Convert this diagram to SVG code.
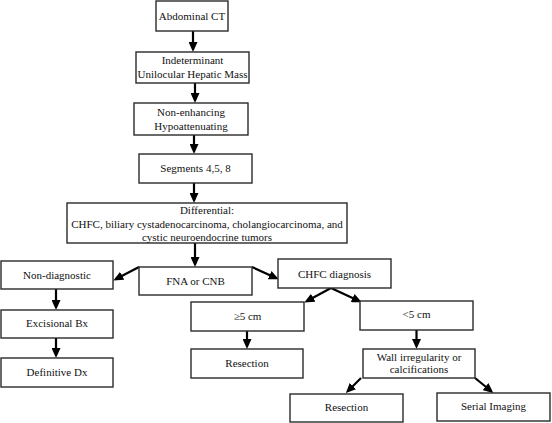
<svg xmlns="http://www.w3.org/2000/svg" width="552" height="423" viewBox="0 0 552 423">
<style>
.box{fill:#fff;stroke:#2a2a2a;stroke-width:1.4}
.t{font-family:'Liberation Serif','Times New Roman','DejaVu Serif',serif;font-size:11px;fill:#111;text-anchor:middle}
.c{stroke:#000;stroke-width:2.2;fill:none}
</style>
<defs>
<marker id="ah" markerUnits="userSpaceOnUse" markerWidth="10" markerHeight="9" refX="7" refY="4.5" orient="auto">
<path d="M0,0 L10,4.5 L0,9 z" fill="#000"/>
</marker>
</defs>
<rect width="552" height="423" fill="#fff"/>
<g id="connectors">
<line class="c" x1="193" y1="31" x2="193" y2="49" marker-end="url(#ah)"/>
<line class="c" x1="195" y1="83" x2="195" y2="100" marker-end="url(#ah)"/>
<line class="c" x1="194" y1="135" x2="194" y2="151" marker-end="url(#ah)"/>
<line class="c" x1="194" y1="183" x2="194" y2="200" marker-end="url(#ah)"/>
<line class="c" x1="195" y1="243" x2="195" y2="264" marker-end="url(#ah)"/>
<line class="c" x1="139" y1="267" x2="116" y2="279" marker-end="url(#ah)"/>
<line class="c" x1="252" y1="267" x2="276" y2="278" marker-end="url(#ah)"/>
<line class="c" x1="331" y1="288" x2="307" y2="301" marker-end="url(#ah)"/>
<line class="c" x1="331" y1="288" x2="359" y2="301" marker-end="url(#ah)"/>
<line class="c" x1="56" y1="289" x2="56" y2="307" marker-end="url(#ah)"/>
<line class="c" x1="56" y1="338" x2="56" y2="355" marker-end="url(#ah)"/>
<line class="c" x1="247" y1="331" x2="247" y2="346" marker-end="url(#ah)"/>
<line class="c" x1="416.5" y1="330" x2="416.5" y2="346" marker-end="url(#ah)"/>
<line class="c" x1="361" y1="378" x2="348" y2="391" marker-end="url(#ah)"/>
<line class="c" x1="475" y1="378" x2="491" y2="391" marker-end="url(#ah)"/>
</g>
<g id="abdominal-ct"><rect class="box" x="156" y="1" width="72" height="30"/><text class="t" x="192" y="19.5">Abdominal CT</text></g>
<g id="indeterminant"><rect class="box" x="136" y="52" width="113" height="31"/><text class="t" x="192.5" y="64">Indeterminant</text><text class="t" x="192.5" y="77.5">Unilocular Hepatic Mass</text></g>
<g id="non-enhancing"><rect class="box" x="134" y="103" width="114" height="32"/><text class="t" x="191" y="115.5">Non-enhancing</text><text class="t" x="191" y="130">Hypoattenuating</text></g>
<g id="segments"><rect class="box" x="139" y="154" width="113" height="29"/><text class="t" x="195.5" y="172">Segments 4,5, 8</text></g>
<g id="differential"><rect class="box" x="67" y="203" width="280" height="40"/><text class="t" x="207" y="214">Differential:</text><text class="t" x="207" y="227.5">CHFC, biliary cystadenocarcinoma, cholangiocarcinoma, and</text><text class="t" x="207" y="240.5">cystic neuroendocrine tumors</text></g>
<g id="non-diagnostic"><rect class="box" x="1" y="261" width="112" height="28"/><text class="t" x="57" y="279">Non-diagnostic</text></g>
<g id="fna"><rect class="box" x="139" y="267" width="113" height="28"/><text class="t" x="195.5" y="284.5">FNA or CNB</text></g>
<g id="chfc"><rect class="box" x="278" y="259" width="113" height="29"/><text class="t" x="334.5" y="278">CHFC diagnosis</text></g>
<g id="excisional"><rect class="box" x="1" y="310" width="112" height="28"/><text class="t" x="57" y="327">Excisional Bx</text></g>
<g id="definitive"><rect class="box" x="1" y="358" width="112" height="29"/><text class="t" x="57" y="376">Definitive Dx</text></g>
<g id="ge5"><rect class="box" x="191" y="302" width="113" height="29"/><text class="t" x="247.5" y="319.5">≥5 cm</text></g>
<g id="lt5"><rect class="box" x="360" y="301" width="113" height="29"/><text class="t" x="416.5" y="318">&lt;5 cm</text></g>
<g id="resection-1"><rect class="box" x="191" y="349" width="112" height="29"/><text class="t" x="247" y="367">Resection</text></g>
<g id="wall"><rect class="box" x="363" y="349" width="112" height="29"/><text class="t" x="419" y="361">Wall irregularity or</text><text class="t" x="419" y="373">calcifications</text></g>
<g id="resection-2"><rect class="box" x="290" y="394" width="113" height="28"/><text class="t" x="346.5" y="410.5">Resection</text></g>
<g id="serial-imaging"><rect class="box" x="437" y="393" width="113" height="28"/><text class="t" x="493.5" y="409.5">Serial Imaging</text></g>
</svg>
